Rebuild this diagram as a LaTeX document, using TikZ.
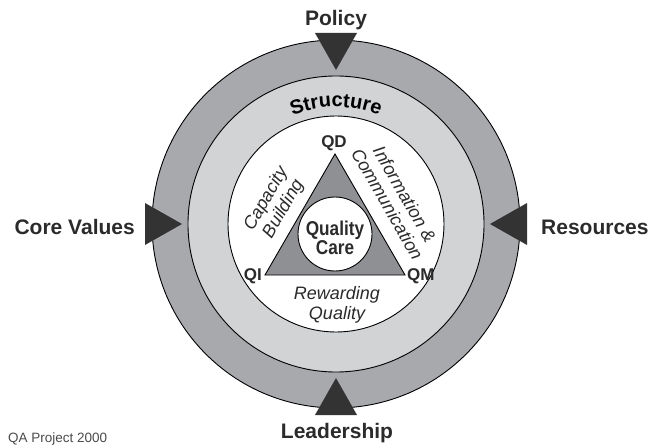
\documentclass[tikz,border=0pt]{standalone}
\usepackage{fontspec}
\setmainfont{Liberation Sans}
\newfontfamily\narrowfont[FakeStretch=0.86]{Liberation Sans}
\usetikzlibrary{decorations.text}

\definecolor{ringdark}{HTML}{A7A9AC}
\definecolor{ringlight}{HTML}{D1D3D4}
\definecolor{trifill}{HTML}{8E9093}
\definecolor{wedgedark}{HTML}{333333}
\definecolor{txt}{HTML}{2B2B2B}

\newcommand{\bigfont}{\fontsize{21}{24}\selectfont\bfseries}
\newcommand{\ringfont}{\fontsize{20}{20}\selectfont\bfseries}
\newcommand{\sidefont}{\fontsize{18}{20}\selectfont\itshape}
\newcommand{\cornerfont}{\fontsize{17}{20}\selectfont\bfseries}
\newcommand{\carefont}{\narrowfont\fontsize{20}{20}\selectfont\bfseries}

\begin{document}
\begin{tikzpicture}[x=1pt,y=1pt]
    \tikzstyle{ringline}=[draw=black, line width=0.9pt]
    \tikzstyle{bigtext}=[font=\bigfont, text=txt, inner sep=0pt]
    \tikzstyle{cornertext}=[font=\cornerfont, text=txt, inner sep=0pt]
    \tikzstyle{sidetext}=[font=\sidefont, text=txt, align=center, inner sep=0pt]
    \tikzstyle{caretext}=[font=\carefont, text=txt, inner sep=0pt]
    \tikzstyle{wedgefill}=[fill=wedgedark];

\useasboundingbox (0,0) rectangle (653,445);
\coordinate (c) at (336,221);

% rings
\draw[ringline, fill=ringdark] (c) circle[radius=184];
\draw[ringline, fill=ringlight] (c) circle[radius=148];
\draw[ringline, fill=white] (c) circle[radius=108];

% triangle and the centre disc
\coordinate (top) at (335,291);
\coordinate (left) at (265,170);
\coordinate (right) at (405,170);
\draw[ringline, fill=trifill, line join=miter] (top) -- (left) -- (right) -- cycle;
\draw[ringline, fill=white] (335,211) circle[radius=37];

% inward pointing wedges
\foreach \a in {0,90,180,270}{
\fill[wedgefill, shift={(c)}, rotate=\a] (154,0) -- (191,21) -- (191,-21) -- cycle;
};

\path[shift={(c)}, color=txt, decorate,
      decoration={text along path, text align=center, text={|\ringfont|Structure}}]
  (160:117) arc[start angle=160, end angle=20, radius=117];

\node[bigtext, anchor=base] (policy) at (336,419) {Policy};
\node[bigtext, anchor=base east] (core) at (135,211) {Core Values};
\node[bigtext, anchor=base west] (resources) at (541,211) {Resources};
\node[bigtext, anchor=base] (leadership) at (337,7) {Leadership};

\node[cornertext, anchor=base] (qd) at (334,297) {QD};
\node[cornertext, anchor=base east] (qi) at (262,165) {QI};
\node[cornertext, anchor=base west] (qm) at (407,165) {QM};

\node[caretext, anchor=base] (quality) at (335,209) {Quality};
\node[caretext, anchor=base] (care) at (335,191) {Care};

\node[sidetext, rotate=60] (capacity) at (275,241) {Capacity\\Building};
\node[sidetext, rotate=-60] (info) at (396,246) {Information \&\\Communication};
\node[sidetext] (reward) at (337,140) {Rewarding\\Quality};

%\node at (8,3) {QA};
\node[anchor=base west, font=\fontsize{13.5}{14}\selectfont, text=txt!85, inner sep=0pt] (source) at (8,3) {QA Project 2000};
\end{tikzpicture}
\end{document}
